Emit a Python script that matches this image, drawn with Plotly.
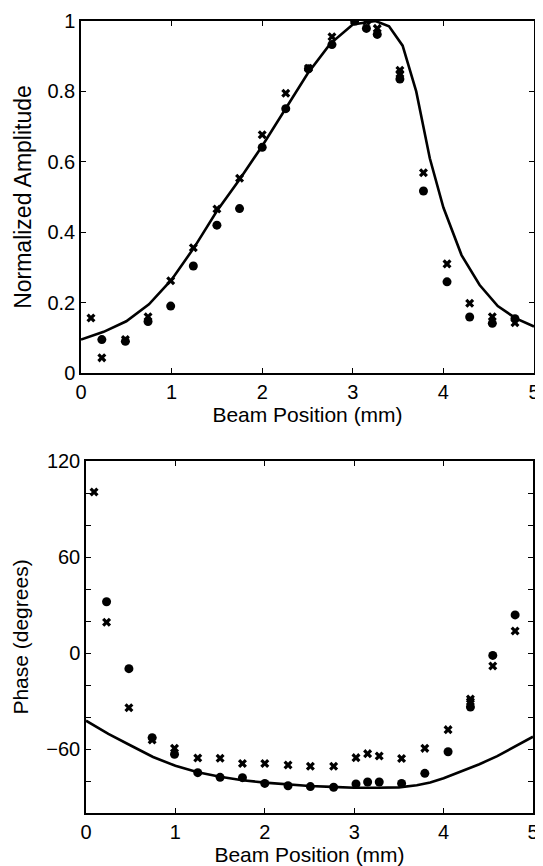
import plotly.graph_objects as go

# ---- Top panel: normalized amplitude ----
amp_pos_circ = [0.23, 0.49, 0.74, 0.99, 1.24, 1.50, 1.75, 2.00, 2.26, 2.51, 2.77, 3.02, 3.15, 3.27, 3.52, 3.78, 4.04, 4.29, 4.54, 4.79]
amp_circ = [0.095, 0.090, 0.146, 0.190, 0.304, 0.420, 0.467, 0.641, 0.751, 0.864, 0.933, 1.000, 0.979, 0.962, 0.835, 0.517, 0.259, 0.159, 0.141, 0.154]

amp_pos_x = [0.11, 0.23, 0.49, 0.74, 0.99, 1.24, 1.50, 1.75, 2.00, 2.26, 2.51, 2.77, 3.02, 3.15, 3.27, 3.52, 3.52, 3.78, 4.04, 4.29, 4.54, 4.79]
amp_x = [0.156, 0.043, 0.095, 0.160, 0.262, 0.356, 0.466, 0.553, 0.677, 0.795, 0.866, 0.955, 1.000, 1.000, 0.979, 0.860, 0.850, 0.569, 0.310, 0.198, 0.160, 0.143]

amp_sim_pos = [0, 0.25, 0.5, 0.75, 1.0, 1.25, 1.5, 1.75, 2.0, 2.25, 2.5, 2.75, 3.0, 3.25, 3.4, 3.55, 3.7, 3.85, 4.0, 4.2, 4.4, 4.6, 4.8, 5.0]
amp_sim = [0.095, 0.117, 0.147, 0.195, 0.265, 0.357, 0.460, 0.550, 0.645, 0.748, 0.850, 0.935, 0.990, 1.000, 0.985, 0.930, 0.800, 0.610, 0.470, 0.335, 0.250, 0.190, 0.155, 0.132]

# ---- Bottom panel: phase ----
ph_pos_circ = [0.23, 0.48, 0.74, 0.99, 1.25, 1.50, 1.75, 2.00, 2.26, 2.51, 2.77, 3.02, 3.15, 3.28, 3.53, 3.79, 4.05, 4.30, 4.55, 4.80]
ph_circ = [32, -9.8, -52.9, -63.3, -74.8, -77.7, -77.9, -81.5, -83.0, -83.5, -83.9, -81.9, -80.6, -80.6, -81.5, -75.2, -61.7, -33.8, -1.5, 23.8]

ph_pos_x = [0.09, 0.23, 0.48, 0.74, 0.99, 1.25, 1.50, 1.75, 2.00, 2.26, 2.51, 2.77, 3.02, 3.15, 3.28, 3.53, 3.79, 4.05, 4.30, 4.30, 4.55, 4.80]
ph_x = [100.6, 19.2, -34.2, -54.4, -59.6, -65.6, -65.8, -69.0, -69.0, -70.0, -70.8, -70.8, -65.4, -62.9, -64.4, -66.0, -59.6, -47.9, -28.8, -30.4, -8.1, 13.8]

ph_sim_pos = [0, 0.25, 0.5, 0.75, 1.0, 1.25, 1.5, 1.75, 2.0, 2.25, 2.5, 2.75, 3.0, 3.25, 3.5, 3.7, 3.85, 4.0, 4.2, 4.4, 4.6, 4.8, 5.0]
ph_sim = [-42.3, -50.5, -57.8, -65.0, -70.5, -74.5, -77.3, -79.5, -81.0, -82.2, -83.1, -83.7, -84.2, -84.2, -84.0, -82.7, -81.0, -78.3, -74.0, -69.5, -64.5, -58.5, -52.3]

x_ticks = [0, 1, 2, 3, 4, 5]
amp_ticks = [0, 0.2, 0.4, 0.6, 0.8, 1.0]
amp_ticktext = ["0", "0.2", "0.4", "0.6", "0.8", "1"]
ph_ticks = [-80, -60, -40, -20, 0, 20, 40, 60, 80, 100, 120]
ph_ticktext = ["", "\u221260", "", "", "0", "", "", "60", "", "", "120"]

# The page body adds an 8 px offset, so the figure is laid out 8 px smaller.
OFF = 8
W, H = 543 - OFF, 866 - OFF


def xdom(left, right):
    return [(left - OFF) / W, (right - OFF) / W]


def ydom(top, bottom):
    return [1 - (bottom - OFF) / H, 1 - (top - OFF) / H]


FONT = "Liberation Sans, Arial, sans-serif"
circ_marker = dict(symbol="circle", size=9, color="black")
x_marker = dict(symbol="x", size=8, color="black", line=dict(width=0))

fig = go.Figure()
fig.add_trace(go.Scatter(x=amp_sim_pos, y=amp_sim, mode="lines", line=dict(color="black", width=2.6),
                         xaxis="x", yaxis="y", showlegend=False))
fig.add_trace(go.Scatter(x=amp_pos_circ, y=amp_circ, mode="markers", marker=circ_marker,
                         xaxis="x", yaxis="y", showlegend=False))
fig.add_trace(go.Scatter(x=amp_pos_x, y=amp_x, mode="markers", marker=x_marker,
                         xaxis="x", yaxis="y", showlegend=False))
fig.add_trace(go.Scatter(x=ph_sim_pos, y=ph_sim, mode="lines", line=dict(color="black", width=2.6),
                         xaxis="x2", yaxis="y2", showlegend=False))
fig.add_trace(go.Scatter(x=ph_pos_circ, y=ph_circ, mode="markers", marker=circ_marker,
                         xaxis="x2", yaxis="y2", showlegend=False))
fig.add_trace(go.Scatter(x=ph_pos_x, y=ph_x, mode="markers", marker=x_marker,
                         xaxis="x2", yaxis="y2", showlegend=False))

axis_common = dict(showgrid=False, zeroline=False, showline=True, linecolor="black", linewidth=1.5,
                   mirror="ticks", ticks="inside", ticklen=5, tickwidth=1, tickcolor="black",
                   automargin=False,
                   tickfont=dict(family=FONT, size=20, color="black"))

fig.update_layout(
    width=W, height=H,
    margin=dict(l=0, r=0, t=0, b=0, autoexpand=False),
    paper_bgcolor="white", plot_bgcolor="white",
    font=dict(family=FONT, color="black"),
    xaxis=dict(**axis_common, domain=xdom(81, 534), anchor="y", range=[0, 5],
               tickvals=x_ticks, ticktext=[str(v) for v in x_ticks],
               title=dict(text="Beam Position (mm)", font=dict(family=FONT, size=21), standoff=3)),
    yaxis=dict(**axis_common, domain=ydom(21, 373), anchor="x", range=[0, 1],
               tickvals=amp_ticks, ticktext=amp_ticktext,
               title=dict(text="Normalized Amplitude", font=dict(family=FONT, size=23), standoff=9)),
    xaxis2=dict(**axis_common, domain=xdom(86, 533), anchor="y2", range=[0, 5],
                tickvals=x_ticks, ticktext=[str(v) for v in x_ticks],
                title=dict(text="Beam Position (mm)", font=dict(family=FONT, size=21), standoff=3)),
    yaxis2=dict(**axis_common, domain=ydom(461, 813), anchor="x2", range=[-100, 120],
                tickvals=ph_ticks, ticktext=ph_ticktext,
                title=dict(text="Phase (degrees)", font=dict(family=FONT, size=21), standoff=12)),
)

fig.write_html("out.html")
